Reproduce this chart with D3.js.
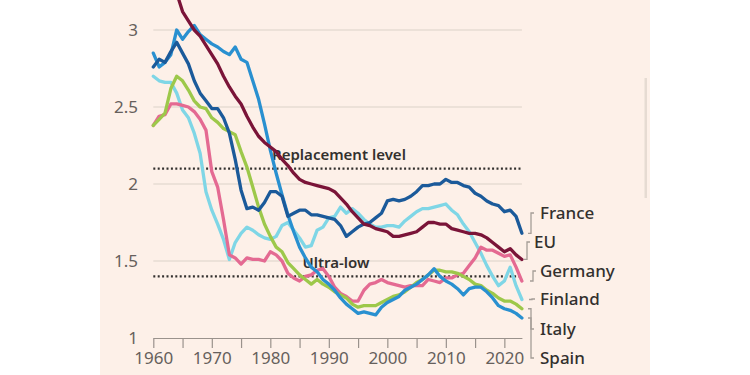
<!DOCTYPE html>
<html>
<head>
<meta charset="utf-8">
<script src="https://cdn.jsdelivr.net/npm/d3@7"></script>
<style>
  body { margin: 0; background: #fff; }
  text { font-family: "Noto Sans", sans-serif; }
</style>
</head>
<body>
<script>
// fertility rate, one value per year 1960-2023
const years = d3.range(1960, 2024);

const france = [2.76, 2.81, 2.79, 2.86, 2.92, 2.85, 2.78, 2.67, 2.59, 2.54,
  2.49, 2.49, 2.43, 2.33, 2.16, 1.96, 1.84, 1.85, 1.83, 1.88,
  1.95, 1.95, 1.92, 1.79, 1.81, 1.83, 1.83, 1.80, 1.80, 1.79,
  1.78, 1.77, 1.73, 1.66, 1.69, 1.72, 1.74, 1.75, 1.78, 1.81,
  1.89, 1.90, 1.89, 1.90, 1.92, 1.95, 1.99, 1.99, 2.00, 2.00,
  2.03, 2.01, 2.01, 1.99, 1.98, 1.94, 1.92, 1.89, 1.87, 1.86,
  1.82, 1.83, 1.79, 1.68];

const eu = [3.55, 3.48, 3.40, 3.32, 3.24, 3.12, 3.06, 3.00, 2.96, 2.90,
  2.84, 2.78, 2.70, 2.63, 2.57, 2.52, 2.44, 2.37, 2.31, 2.27,
  2.24, 2.21, 2.16, 2.12, 2.07, 2.03, 2.01, 2.00, 1.99, 1.98,
  1.97, 1.95, 1.91, 1.87, 1.82, 1.78, 1.74, 1.73, 1.71, 1.70,
  1.69, 1.66, 1.66, 1.67, 1.68, 1.69, 1.72, 1.75, 1.75, 1.74,
  1.74, 1.71, 1.70, 1.69, 1.68, 1.68, 1.67, 1.65, 1.62, 1.59,
  1.56, 1.58, 1.54, 1.51];

const germany = [2.38, 2.44, 2.45, 2.52, 2.52, 2.51, 2.50, 2.47, 2.42, 2.35,
  2.08, 1.98, 1.77, 1.54, 1.52, 1.48, 1.52, 1.51, 1.51, 1.50,
  1.56, 1.54, 1.50, 1.42, 1.39, 1.37, 1.40, 1.41, 1.44, 1.45,
  1.40, 1.33, 1.29, 1.27, 1.24, 1.24, 1.31, 1.35, 1.36, 1.38,
  1.36, 1.35, 1.34, 1.33, 1.34, 1.34, 1.34, 1.38, 1.37, 1.36,
  1.39, 1.39, 1.41, 1.42, 1.47, 1.52, 1.59, 1.57, 1.57, 1.55,
  1.53, 1.54, 1.46, 1.37];

const finland = [2.70, 2.67, 2.66, 2.66, 2.59, 2.48, 2.43, 2.33, 2.20, 1.95,
  1.83, 1.74, 1.64, 1.51, 1.62, 1.68, 1.72, 1.70, 1.67, 1.65,
  1.64, 1.66, 1.73, 1.75, 1.70, 1.65, 1.59, 1.60, 1.70, 1.72,
  1.78, 1.79, 1.85, 1.81, 1.84, 1.81, 1.77, 1.74, 1.72, 1.72,
  1.73, 1.73, 1.72, 1.76, 1.79, 1.82, 1.84, 1.84, 1.85, 1.86,
  1.87, 1.83, 1.80, 1.74, 1.69, 1.62, 1.55, 1.47, 1.40, 1.34,
  1.37, 1.46, 1.34, 1.25];

const italy = [2.38, 2.42, 2.46, 2.62, 2.70, 2.67, 2.61, 2.54, 2.50, 2.49,
  2.43, 2.40, 2.36, 2.34, 2.32, 2.21, 2.11, 1.98, 1.85, 1.74,
  1.66, 1.59, 1.56, 1.49, 1.45, 1.41, 1.38, 1.35, 1.38, 1.35,
  1.33, 1.30, 1.28, 1.26, 1.22, 1.20, 1.21, 1.21, 1.21, 1.23,
  1.25, 1.27, 1.28, 1.30, 1.33, 1.36, 1.38, 1.41, 1.44, 1.44,
  1.43, 1.43, 1.42, 1.40, 1.38, 1.35, 1.34, 1.31, 1.29, 1.26,
  1.24, 1.24, 1.22, 1.19];

const spain = [2.85, 2.76, 2.79, 2.84, 3.00, 2.94, 2.99, 3.03, 2.97, 2.94,
  2.91, 2.89, 2.86, 2.84, 2.89, 2.81, 2.79, 2.67, 2.55, 2.39,
  2.22, 2.07, 1.93, 1.80, 1.69, 1.59, 1.52, 1.46, 1.43, 1.38,
  1.35, 1.31, 1.26, 1.22, 1.19, 1.16, 1.17, 1.16, 1.15, 1.20,
  1.23, 1.25, 1.27, 1.31, 1.33, 1.35, 1.38, 1.41, 1.45, 1.40,
  1.37, 1.35, 1.32, 1.28, 1.32, 1.33, 1.33, 1.30, 1.26, 1.21,
  1.19, 1.18, 1.16, 1.13];

const yTicks = [1, 1.5, 2, 2.5, 3];
const xTicks = d3.range(1960, 2021, 5);
const xLabels = [1960, 1970, 1980, 1990, 2000, 2010, 2020];
const refLines = [
  {value: 2.1, label: "Replacement level", year: 1980.3},
  {value: 1.4, label: "Ultra-low", year: 1985.5}
];

const series = [
  {name: "Finland", values: finland, color: "#7fd6e6", labelY: 299, bx: 532, lx: 540},
  {name: "Germany", values: germany, color: "#e46a92", labelY: 271, bx: 533, lx: 540},
  {name: "Italy", values: italy, color: "#9dc84a", labelY: 329, bx: 531, lx: 540},
  {name: "Spain", values: spain, color: "#2990d0", labelY: 358, bx: 531, lx: 540},
  {name: "France", values: france, color: "#1b5a9a", labelY: 213, bx: 531, lx: 540},
  {name: "EU", values: eu, color: "#7a1438", labelY: 242, bx: 527, lx: 534}
];

const w = 750;
const h = 375;

const svg = d3.select("body")
  .append("svg")
  .attr("width", w)
  .attr("height", h);

svg.append("rect")
  .attr("x", 100)
  .attr("y", 0)
  .attr("width", 550)
  .attr("height", h)
  .attr("fill", "#fdf0e8");

// scrollbar-like strip at the right of the panel
svg.append("rect")
  .attr("x", 644.5)
  .attr("y", 78)
  .attr("width", 2.5)
  .attr("height", 120)
  .attr("fill", "#e6dbd2");

const xScale = d3.scaleLinear()
  .domain([1960, 2023])
  .range([153.3, 521.9]);

const yScale = d3.scaleLinear()
  .domain([1, 3])
  .range([338, 30]);

// grid
svg.append("g")
  .selectAll("line")
  .data(yTicks.filter(d => d > 1))
  .enter()
  .append("line")
  .attr("x1", xScale(1960))
  .attr("x2", xScale(2023))
  .attr("y1", d => yScale(d))
  .attr("y2", d => yScale(d))
  .attr("stroke", "#dcd1c8")
  .attr("stroke-width", 1.2);

// y labels
svg.append("g")
  .selectAll("text")
  .data(yTicks)
  .enter()
  .append("text")
  .attr("x", 138)
  .attr("y", d => yScale(d))
  .attr("dy", "0.36em")
  .attr("text-anchor", "end")
  .attr("font-size", 17)
  .attr("fill", "#66605c")
  .text(d => d);

// x axis
const xAxis = d3.axisBottom(xScale)
  .tickValues(xTicks)
  .tickSize(10)
  .tickSizeOuter(0)
  .tickPadding(4)
  .tickFormat(d => xLabels.includes(d) ? d : "");

const gx = svg.append("g")
  .attr("id", "x-axis")
  .attr("transform", "translate(0," + yScale(1) + ")")
  .call(xAxis);

gx.select(".domain").attr("stroke", "#9a928c").attr("stroke-width", 1.2);
gx.selectAll(".tick line").attr("stroke", "#9a928c").attr("stroke-width", 1.2);
gx.selectAll(".tick text")
  .attr("font-family", "Noto Sans, sans-serif")
  .attr("font-size", 17)
  .attr("fill", "#66605c");

// reference lines
refLines.forEach(r => {
  svg.append("line")
    .attr("x1", xScale(1960))
    .attr("x2", xScale(2023))
    .attr("y1", yScale(r.value))
    .attr("y2", yScale(r.value))
    .attr("stroke", "#33302e")
    .attr("stroke-width", 2.2)
    .attr("stroke-dasharray", "2,2.4");
  svg.append("text")
    .attr("x", xScale(r.year))
    .attr("y", yScale(r.value) - 8.5)
    .attr("font-size", 15)
    .attr("font-weight", 600)
    .attr("fill", "#33302e")
    .text(r.label);
});

const line = d3.line()
  .x((d, i) => xScale(years[i]))
  .y(d => yScale(d));

svg.append("g")
  .selectAll("path")
  .data(series)
  .enter()
  .append("path")
  .attr("d", d => line(d.values))
  .attr("fill", "none")
  .attr("stroke", d => d.color)
  .attr("stroke-width", 3.3)
  .attr("stroke-linejoin", "round")
  .attr("stroke-linecap", "round");

// connectors and labels
const last = years.length - 1;
svg.append("g")
  .selectAll("path")
  .data(series)
  .enter()
  .append("path")
  .attr("d", d => {
    const y0 = yScale(d.values[last]);
    return "M" + (d.bx - 3) + "," + y0 + "H" + d.bx + "V" + d.labelY + "H" + (d.bx + 3);
  })
  .attr("fill", "none")
  .attr("stroke", "#a59d97")
  .attr("stroke-width", 1.3);

svg.append("g")
  .selectAll("text")
  .data(series)
  .enter()
  .append("text")
  .attr("x", d => d.lx)
  .attr("y", d => d.labelY)
  .attr("dy", "0.36em")
  .attr("font-size", 17)
  .attr("font-weight", 500)
  .attr("fill", "#33302e")
  .text(d => d.name);
</script>
</body>
</html>
